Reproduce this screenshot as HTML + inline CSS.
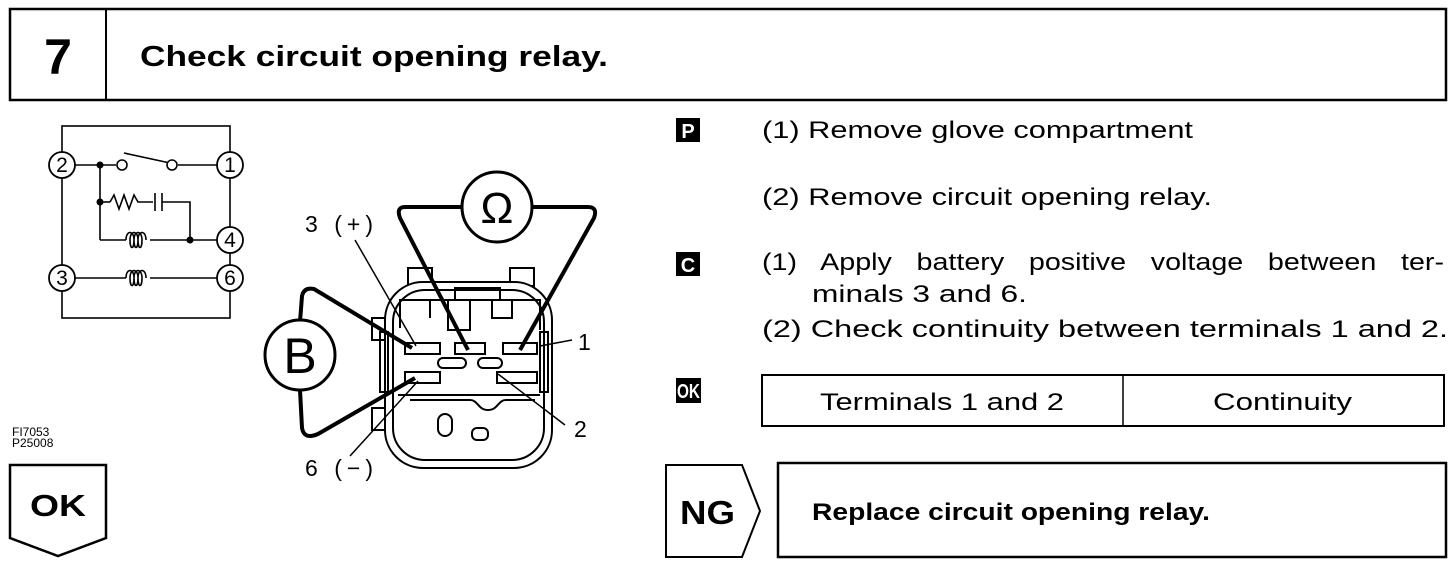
<!DOCTYPE html>
<html><head><meta charset="utf-8"><style>
html,body{margin:0;padding:0;background:#fff}
svg{display:block}
text{font-family:"Liberation Sans",sans-serif;fill:#000}
</style></head><body>
<svg width="1456" height="564" viewBox="0 0 1456 564" xmlns="http://www.w3.org/2000/svg">
<!-- header -->
<rect x="10" y="9" width="1436" height="91" fill="none" stroke="#000" stroke-width="2.5"/>
<line x1="106" y1="9" x2="106" y2="100" stroke="#000" stroke-width="2"/>
<text x="58" y="74" font-size="50" font-weight="bold" text-anchor="middle">7</text>
<text x="140" y="66" font-size="29" font-weight="bold" textLength="468" lengthAdjust="spacingAndGlyphs">Check circuit opening relay.</text>

<!-- circuit -->
<g fill="none" stroke="#000" stroke-width="1.6">
<rect x="62" y="126" width="168" height="192"/>
<line x1="62" y1="165" x2="116" y2="165"/>
<line x1="178" y1="165" x2="230" y2="165"/>
<line x1="124" y1="153" x2="170" y2="163" />
<line x1="100" y1="165" x2="100" y2="240"/>
<line x1="100" y1="202" x2="110" y2="202"/>
<polyline points="110,202 114,195 119,209 124,195 129,209 134,195 138,202 153,202"/>
<line x1="155" y1="193" x2="155" y2="211"/>
<line x1="162" y1="193" x2="162" y2="211"/>
<polyline points="162,202 190,202 190,240"/>
<line x1="100" y1="240" x2="126" y2="240"/>
<path d="M126,240 c0,-10 8,-10 8,0 c0,10 -4,10 -4,0 c0,-10 8,-10 8,0 c0,10 -4,10 -4,0 c0,-10 8,-10 8,0 c0,10 -4,10 -4,0 c0,-10 8,-10 8,0"/>
<line x1="150" y1="240" x2="230" y2="240"/>
<line x1="62" y1="278" x2="126" y2="278"/>
<path d="M126,278 c0,-10 8,-10 8,0 c0,10 -4,10 -4,0 c0,-10 8,-10 8,0 c0,10 -4,10 -4,0 c0,-10 8,-10 8,0 c0,10 -4,10 -4,0 c0,-10 8,-10 8,0"/>
<line x1="150" y1="278" x2="230" y2="278"/>
</g>
<circle cx="122" cy="165" r="5" fill="#fff" stroke="#000" stroke-width="1.6"/>
<circle cx="172" cy="165" r="5" fill="#fff" stroke="#000" stroke-width="1.6"/>
<circle cx="100" cy="165" r="3.5" fill="#000"/>
<circle cx="100" cy="202" r="3.5" fill="#000"/>
<circle cx="190" cy="240" r="3.5" fill="#000"/>
<g fill="#fff" stroke="#000" stroke-width="1.8">
<circle cx="62" cy="165" r="13"/><circle cx="230" cy="165" r="13"/>
<circle cx="230" cy="240" r="13"/><circle cx="230" cy="278" r="13"/>
<circle cx="62" cy="278" r="13"/>
</g>
<g font-size="21" text-anchor="middle">
<text x="62" y="172">2</text><text x="230" y="172">1</text>
<text x="230" y="247">4</text><text x="230" y="285">6</text>
<text x="62" y="285">3</text>
</g>
<text x="12" y="436" font-size="12">FI7053</text>
<text x="12" y="447" font-size="12">P25008</text>

<!-- connector -->
<g fill="none" stroke="#000" stroke-width="2">
<rect x="408" y="268" width="24" height="18" fill="#fff"/>
<rect x="510" y="268" width="24" height="18" fill="#fff"/>
<rect x="372" y="318" width="16" height="22"/>
<rect x="372" y="408" width="16" height="22"/>
<rect x="385" y="282" width="167" height="186" rx="38" fill="#fff"/>
<rect x="393" y="290" width="151" height="170" rx="32"/>
<path d="M400,328 L400,300 L540,300 L540,330"/>
<path d="M430,318 L430,300 M448,300 L448,330 L470,330 L470,300 M492,300 L492,318 L512,318 L512,300"/>
<path d="M455,300 L455,288 L500,288 L500,300"/>
<path d="M398,395 L540,395 M410,400 L470,400 C478,400 478,410 488,410 C498,410 498,400 506,400 L535,400"/>
<rect x="438" y="414" width="14" height="22" rx="7"/>
<rect x="472" y="428" width="16" height="12" rx="5"/>
<rect x="380" y="332" width="8" height="60"/>
<rect x="540" y="332" width="8" height="60"/>
<rect x="438" y="358" width="28" height="10" rx="5"/>
<rect x="478" y="358" width="24" height="10" rx="5"/>
</g>
<g fill="#fff" stroke="#000" stroke-width="2">
<rect x="405" y="343" width="35" height="11"/>
<rect x="455" y="343" width="30" height="11"/>
<rect x="503" y="343" width="34" height="11"/>
<rect x="405" y="372" width="35" height="11"/>
<rect x="497" y="372" width="40" height="11"/>
</g>
<!-- meter wires -->
<g fill="none" stroke="#000" stroke-width="4" stroke-linejoin="round">
<path d="M462,207 L405,207 Q396,207 400,218 L468,350"/>
<path d="M532,207 L588,207 Q598,207 594,218 L520,350"/>
<path d="M300,322 L302,296 Q304,287 314,289 L412,348"/>
<path d="M300,390 L302,428 Q304,440 318,434 L415,378"/>
</g>
<circle cx="497" cy="207" r="35" fill="#fff" stroke="#000" stroke-width="3"/>
<text x="497" y="223" font-size="44" text-anchor="middle">Ω</text>
<circle cx="300" cy="355" r="35" fill="#fff" stroke="#000" stroke-width="3"/>
<text x="300" y="373" font-size="50" text-anchor="middle">B</text>
<!-- labels -->
<g stroke="#000" stroke-width="1.5">
<line x1="355" y1="240" x2="416" y2="346"/>
<line x1="540" y1="346" x2="572" y2="340"/>
<line x1="565" y1="425" x2="498" y2="374"/>
<line x1="350" y1="456" x2="418" y2="381"/>
</g>
<text x="305" y="232" font-size="23" textLength="68" lengthAdjust="spacing">3 (+)</text>
<text x="578" y="350" font-size="23">1</text>
<text x="574" y="437" font-size="23">2</text>
<text x="305" y="476" font-size="23" textLength="68" lengthAdjust="spacing">6 (−)</text>

<!-- right text -->
<rect x="676" y="118" width="24" height="24" fill="#000"/>
<text x="688" y="138" font-size="20" font-weight="bold" text-anchor="middle" style="fill:#fff">P</text>
<rect x="676" y="252" width="24" height="24" fill="#000"/>
<text x="688" y="272" font-size="20" font-weight="bold" text-anchor="middle" style="fill:#fff">C</text>
<rect x="676" y="378" width="25" height="25" fill="#000"/>
<text x="688.5" y="398" font-size="20" font-weight="bold" text-anchor="middle" textLength="23" lengthAdjust="spacingAndGlyphs" style="fill:#fff">OK</text>
<g font-size="24">
<text x="762" y="138" textLength="431" lengthAdjust="spacingAndGlyphs">(1) Remove glove compartment</text>
<text x="762" y="205" textLength="450" lengthAdjust="spacingAndGlyphs">(2) Remove circuit opening relay.</text>
<text x="762" y="270" textLength="682" lengthAdjust="spacingAndGlyphs" word-spacing="14">(1) Apply battery positive voltage between ter-</text>
<text x="812" y="302" textLength="215" lengthAdjust="spacingAndGlyphs">minals 3 and 6.</text>
<text x="762" y="337" textLength="686" lengthAdjust="spacingAndGlyphs">(2) Check continuity between terminals 1 and 2.</text>
</g>
<rect x="762" y="375" width="682" height="51" fill="none" stroke="#000" stroke-width="2"/>
<line x1="1123" y1="375" x2="1123" y2="426" stroke="#000" stroke-width="1.5"/>
<text x="820" y="410" font-size="24" textLength="244" lengthAdjust="spacingAndGlyphs">Terminals 1 and 2</text>
<text x="1213" y="410" font-size="24" textLength="139" lengthAdjust="spacingAndGlyphs">Continuity</text>

<!-- NG -->
<path d="M666,465 L742,465 L760,511 L742,557 L666,557 Z" fill="none" stroke="#000" stroke-width="2"/>
<text x="680" y="524" font-size="33" font-weight="bold" textLength="55" lengthAdjust="spacingAndGlyphs">NG</text>
<rect x="778" y="463" width="668" height="94" fill="none" stroke="#000" stroke-width="2.5"/>
<text x="812" y="520" font-size="24" font-weight="bold" textLength="398" lengthAdjust="spacingAndGlyphs">Replace circuit opening relay.</text>

<!-- OK left -->
<path d="M10,465 L106,465 L106,538 L58,556 L10,538 Z" fill="none" stroke="#000" stroke-width="2.5"/>
<text x="30" y="516" font-size="31" font-weight="bold" textLength="56" lengthAdjust="spacingAndGlyphs">OK</text>
</svg>
</body></html>
